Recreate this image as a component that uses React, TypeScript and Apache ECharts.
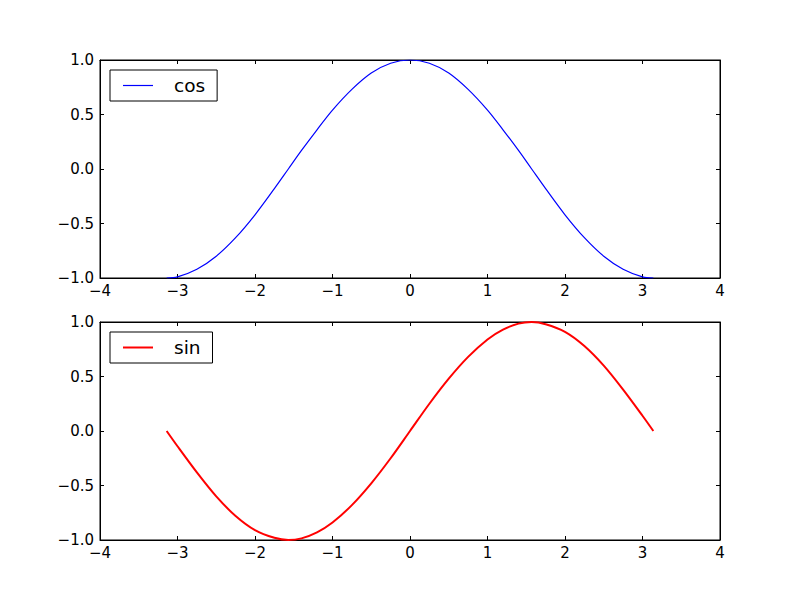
import React, { useEffect, useRef } from "react";
import * as echarts from "echarts";

const xValues = [-3.14, -3.0, -2.75, -2.5, -2.25, -2.0, -1.75, -1.57, -1.4, -1.2, -1.0, -0.75, -0.5, -0.25, 0, 0.25, 0.5, 0.75, 1.0, 1.2, 1.4, 1.57, 1.75, 2.0, 2.25, 2.5, 2.75, 3.0, 3.14];
const cosValues = [-1.0, -0.99, -0.92, -0.8, -0.63, -0.42, -0.18, 0.0, 0.17, 0.36, 0.54, 0.73, 0.88, 0.97, 1.0, 0.97, 0.88, 0.73, 0.54, 0.36, 0.17, 0.0, -0.18, -0.42, -0.63, -0.8, -0.92, -0.99, -1.0];
const sinValues = [0.0, -0.14, -0.38, -0.6, -0.78, -0.91, -0.98, -1.0, -0.985, -0.93, -0.84, -0.68, -0.48, -0.25, 0.0, 0.25, 0.48, 0.68, 0.84, 0.93, 0.985, 1.0, 0.98, 0.91, 0.78, 0.6, 0.38, 0.14, 0.0];
const seriesNames = ["cos", "sin"];

const FONT = "DejaVu Sans";
const fmtX = (v: number) => String(v).replace("-", "\u2212");
const fmtY = (v: number) => v.toFixed(1).replace("-", "\u2212");

export default function App() {
  const ref = useRef<HTMLDivElement>(null);
  useEffect(() => {
    if (!ref.current) return;
    const chart = echarts.init(ref.current, null, { renderer: "svg" });
    const tick = { inside: true, length: 4, lineStyle: { color: "#000", width: 1 } };
    const line = { show: true, onZero: false, lineStyle: { color: "#000", width: 1 } };
    const labelStyle = { color: "#000", fontFamily: FONT, fontSize: 15 };
    const xAxes: any[] = [];
    const yAxes: any[] = [];
    [0, 1].forEach((g) => {
      xAxes.push({
        type: "value", gridIndex: g, min: -4, max: 4, interval: 1, position: "bottom",
        axisLine: line, axisTick: tick, splitLine: { show: false },
        axisLabel: { ...labelStyle, margin: 5, formatter: fmtX },
      });
      xAxes.push({
        type: "value", gridIndex: g, min: -4, max: 4, interval: 1, position: "top",
        axisLine: line, axisTick: tick, splitLine: { show: false }, axisLabel: { show: false },
      });
      yAxes.push({
        type: "value", gridIndex: g, min: -1, max: 1, interval: 0.5, position: "left",
        axisLine: line, axisTick: tick, splitLine: { show: false },
        axisLabel: { ...labelStyle, margin: 6, formatter: fmtY },
      });
      yAxes.push({
        type: "value", gridIndex: g, min: -1, max: 1, interval: 0.5, position: "right",
        axisLine: line, axisTick: tick, splitLine: { show: false }, axisLabel: { show: false },
      });
    });
    const legendBase = {
      left: 110, orient: "vertical", itemWidth: 30, icon: "rect",
      borderColor: "#000", borderWidth: 1, borderRadius: 0, backgroundColor: "#fff",
      padding: [6, 12, 6, 13],
      textStyle: { color: "#000", fontFamily: FONT, fontSize: 18.5, padding: [0, 0, 0, 16] },
    };
    chart.setOption({
      animation: false,
      backgroundColor: "#fff",
      grid: [
        { left: 100, right: 80, top: 60, height: 218, show: true, borderColor: "#000", borderWidth: 1, backgroundColor: "transparent" },
        { left: 100, right: 80, top: 322, height: 218, show: true, borderColor: "#000", borderWidth: 1, backgroundColor: "transparent" },
      ],
      legend: [
        { ...legendBase, top: 70, data: [seriesNames[0]], itemHeight: 1.2 },
        { ...legendBase, top: 332, data: [seriesNames[1]], itemHeight: 2 },
      ],
      xAxis: xAxes,
      yAxis: yAxes,
      series: [
        {
          name: seriesNames[0], type: "line", xAxisIndex: 0, yAxisIndex: 0, showSymbol: false, symbol: "none",
          smooth: 0.3,
          data: xValues.map((x, i) => [x, cosValues[i]]),
          lineStyle: { color: "#0000ff", width: 1.2 }, itemStyle: { color: "#0000ff" },
        },
        {
          name: seriesNames[1], type: "line", xAxisIndex: 2, yAxisIndex: 2, showSymbol: false, symbol: "none",
          smooth: 0.3,
          data: xValues.map((x, i) => [x, sinValues[i]]),
          lineStyle: { color: "#ff0000", width: 2 }, itemStyle: { color: "#ff0000" },
        },
      ],
    });
    return () => chart.dispose();
  }, []);
  return <div ref={ref} style={{ width: 800, height: 600, position: "absolute", left: 0, top: 0 }} />;
}
